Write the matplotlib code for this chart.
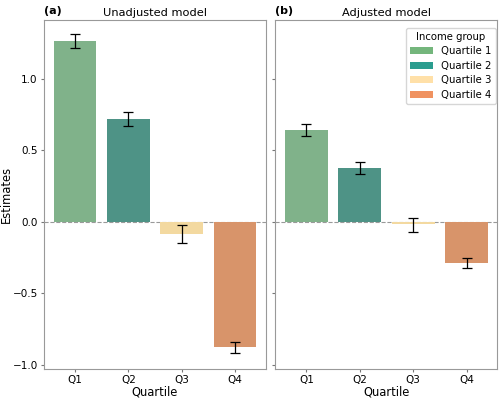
import matplotlib
matplotlib.use("Agg")
import matplotlib.pyplot as plt
from matplotlib.patches import Patch
import numpy as np

quartiles = ["Q1", "Q2", "Q3", "Q4"]
legend_labels = ["Quartile 1", "Quartile 2", "Quartile 3", "Quartile 4"]

unadj_est = [1.26, 0.72, -0.085, -0.873]
unadj_lo = [1.215, 0.67, -0.148, -0.92]
unadj_hi = [1.31, 0.77, -0.023, -0.84]

adj_est = [0.64, 0.376, -0.016, -0.288]
adj_lo = [0.60, 0.33, -0.072, -0.325]
adj_hi = [0.68, 0.42, 0.023, -0.255]

bar_colors = ["#80b28a", "#4e9386", "#f3d9a0", "#d8946a"]
legend_colors = ["#74b67c", "#2a9d8f", "#ffe0a8", "#f09260"]

fig, axes = plt.subplots(1, 2, figsize=(5, 4), dpi=100, sharey=True)
fig.subplots_adjust(left=0.088, right=0.994, top=0.95, bottom=0.0775, wspace=0.045)

panels = [("(a)", "Unadjusted model", unadj_est, unadj_lo, unadj_hi),
          ("(b)", "Adjusted model", adj_est, adj_lo, adj_hi)]

x = np.arange(len(quartiles))
for ax, (tag, title, est, lo, hi) in zip(axes, panels):
    est = np.array(est); lo = np.array(lo); hi = np.array(hi)
    ax.bar(x, est, width=0.8, color=bar_colors, zorder=2)
    ax.errorbar(x, est, yerr=[est - lo, hi - est], fmt="none", ecolor="black",
                elinewidth=0.9, capsize=3.3, capthick=0.9, zorder=3)
    ax.axhline(0, color="#999999", linestyle="--", linewidth=0.8, zorder=1)
    ax.set_xticks(x)
    ax.set_xticklabels(quartiles)
    ax.set_xlabel("Quartile", fontsize=8.3, labelpad=0.5)
    ax.set_title(title, fontsize=8.2, pad=3)
    ax.text(0.0, 1.012, tag, transform=ax.transAxes, fontsize=8, fontweight="bold",
            ha="left", va="bottom")
    for s in ax.spines.values():
        s.set_color("#999999")
    ax.tick_params(colors="#777777", labelcolor="black", labelsize=7.5, length=2.5, pad=2)
    ax.set_xlim(-0.58, 3.57)

axes[0].set_ylim(-1.03, 1.41)
axes[0].set_yticks([-1.0, -0.5, 0.0, 0.5, 1.0])
axes[0].set_ylabel("Estimates", fontsize=8.3)
axes[0].yaxis.set_label_coords(-0.14, 0.5)
axes[1].tick_params(labelleft=False)

handles = [Patch(facecolor=c, label=l) for c, l in zip(legend_colors, legend_labels)]
axes[1].legend(handles=handles, title="Income group", loc="upper right",
               bbox_to_anchor=(0.995, 0.978), fontsize=7.3, title_fontsize=7.3,
               frameon=True, borderaxespad=0.0, handlelength=2.3, labelspacing=0.45)

fig.savefig("out.png", dpi=100)
